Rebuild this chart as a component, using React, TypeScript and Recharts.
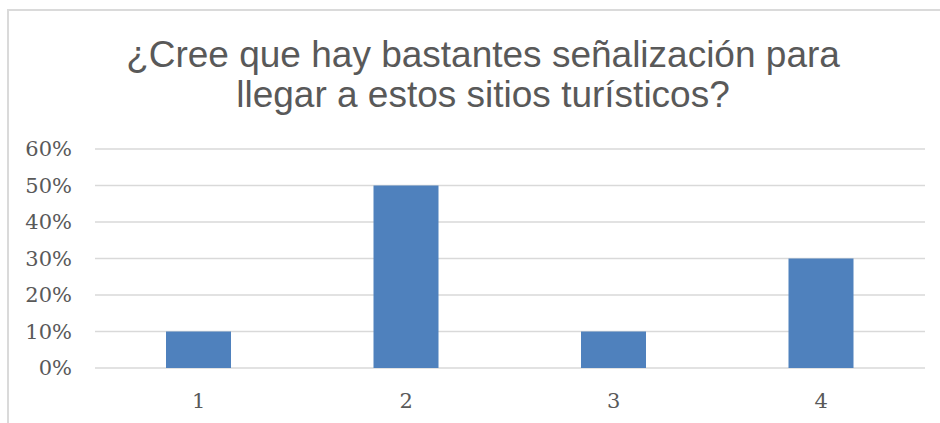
import { BarChart, Bar, XAxis, YAxis, CartesianGrid } from "recharts"

const categories = ["1", "2", "3", "4"]
const shares = [10, 50, 10, 30]
const yTicks = [0, 10, 20, 30, 40, 50, 60]

const title = ["¿Cree que hay bastantes señalización para", "llegar a estos sitios turísticos?"]

const data = categories.map((name, i) => ({ name, value: shares[i] }))

const tickStyle = { fontFamily: "'DejaVu Serif', serif", fontSize: 21, fill: "#595959" }

export default function App() {
  return (
    <div style={{ position: "fixed", left: 0, top: 0, width: 940, height: 423, background: "#fff", overflow: "hidden" }}>
      {/* chart frame, only top and left edges are visible */}
      <div
        style={{
          position: "absolute",
          left: 7,
          top: 9,
          width: 1000,
          height: 1000,
          borderLeft: "2px solid #dadada",
          borderTop: "2px solid #dadada",
        }}
      ></div>

      <div
        style={{
          position: "absolute",
          left: 0,
          top: 35,
          width: 966,
          textAlign: "center",
          fontFamily: "'Liberation Sans', Arial, sans-serif",
          fontSize: 37,
          lineHeight: "40px",
          color: "#595959",
          whiteSpace: "nowrap",
        }}
      >
        {title.map((line, i) => (
          <div key={i}>{line}</div>
        ))}
      </div>

      <div style={{ position: "absolute", left: 0, top: 0 }}>
        <BarChart width={940} height={423} data={data} margin={{ top: 149, right: 15, bottom: 25, left: 0 }}>
          <CartesianGrid vertical={false} stroke="#d9d9d9" strokeWidth={1.5} />
          <XAxis
            dataKey="name"
            axisLine={false}
            tickLine={false}
            tick={tickStyle}
            tickMargin={19}
          />
          <YAxis
            width={95}
            domain={[0, 60]}
            ticks={yTicks}
            interval={0}
            axisLine={false}
            tickLine={false}
            tick={tickStyle}
            tickMargin={17}
            tickFormatter={(v) => `${v}%`}
          />
          <Bar dataKey="value" fill="#4f81bd" barSize={65} isAnimationActive={false} />
        </BarChart>
      </div>
    </div>
  )
}
